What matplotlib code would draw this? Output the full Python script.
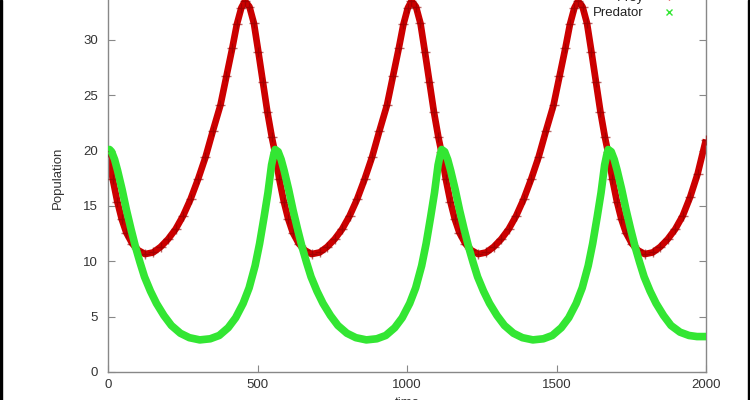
import numpy as np
import matplotlib
matplotlib.use('Agg')
import matplotlib.pyplot as plt
from matplotlib.lines import Line2D
from matplotlib.patches import Rectangle

# Prey population
prey_t = [0, 16, 31, 46, 61, 81, 101, 124, 151, 176, 201, 226, 251, 276, 301, 326, 351, 376, 396, 416, 431, 446,
          458, 473, 488, 503, 518, 533, 548, 558, 573, 588, 603, 618, 638, 658, 681, 708, 733, 758, 783, 808, 833,
          858, 883, 908, 933, 953, 973, 988, 1003,
          1015, 1030, 1045, 1060, 1075, 1090, 1105, 1115, 1130, 1145, 1160, 1175, 1195, 1215, 1238, 1265, 1290,
          1315, 1340, 1365, 1390, 1415, 1440, 1465, 1490, 1510, 1530, 1545, 1560,
          1572, 1587, 1602, 1617, 1632, 1647, 1662, 1672, 1687, 1702, 1717, 1732, 1752, 1772, 1795, 1822, 1847,
          1872, 1897, 1922, 1947, 1972, 2000]
prey = [19.9, 17.4, 15.4, 13.8, 12.6, 11.6, 11.0, 10.65, 10.8, 11.3, 12.0, 12.9, 14.1, 15.6, 17.4, 19.4, 21.8,
        24.1, 26.7, 29.3, 31.4, 32.9,
        33.5, 33.0, 31.5, 28.9, 26.2, 23.5, 21.2, 19.9, 17.4, 15.4, 13.8, 12.6, 11.6, 11.0, 10.65, 10.8, 11.3,
        12.0, 12.9, 14.1, 15.6, 17.4, 19.4, 21.8, 24.1, 26.7, 29.3, 31.4, 32.9,
        33.5, 33.0, 31.5, 28.9, 26.2, 23.5, 21.2, 19.9, 17.4, 15.4, 13.8, 12.6, 11.6, 11.0, 10.65, 10.8, 11.3,
        12.0, 12.9, 14.1, 15.6, 17.4, 19.4, 21.8, 24.1, 26.7, 29.3, 31.4, 32.9,
        33.5, 33.0, 31.5, 28.9, 26.2, 23.5, 21.2, 19.9, 17.4, 15.4, 13.8, 12.6, 11.6, 11.0, 10.65, 10.8, 11.3,
        12.0, 12.9, 14.1, 15.8, 17.9, 21.0]

# Predator population
pred_t = [0, 5, 12, 22, 32, 47, 62, 77, 92, 107, 122, 142, 162, 187, 212, 242, 272, 307, 342, 372, 402, 427,
          452, 472, 492, 507, 522, 535, 547, 554,
          559, 569, 579, 589, 604, 619, 634, 649, 664, 679, 699, 719, 744, 769, 799, 829, 864, 899, 929, 959,
          984, 1009, 1029, 1049, 1064, 1079, 1092, 1104, 1111,
          1116, 1126, 1136, 1146, 1161, 1176, 1191, 1206, 1221, 1236, 1256, 1276, 1301, 1326, 1356, 1386, 1421,
          1456, 1486, 1516, 1541, 1566, 1586, 1606, 1621, 1636, 1649, 1661, 1668,
          1673, 1683, 1693, 1703, 1718, 1733, 1748, 1763, 1778, 1793, 1813, 1833, 1858, 1883, 1913, 1943, 1970,
          2000]
predator = [20.0, 20.1, 19.9, 19.2, 18.2, 16.5, 14.6, 12.9, 11.3, 9.9, 8.6, 7.3, 6.2, 5.1, 4.2, 3.5, 3.1, 2.9,
            3.0, 3.3, 4.0, 4.9, 6.2, 7.6, 9.6, 11.6, 14.0, 16.2, 18.7, 19.6,
            20.1, 19.9, 19.2, 18.2, 16.5, 14.6, 12.9, 11.3, 9.9, 8.6, 7.3, 6.2, 5.1, 4.2, 3.5, 3.1, 2.9, 3.0,
            3.3, 4.0, 4.9, 6.2, 7.6, 9.6, 11.6, 14.0, 16.2, 18.7, 19.6,
            20.1, 19.9, 19.2, 18.2, 16.5, 14.6, 12.9, 11.3, 9.9, 8.6, 7.3, 6.2, 5.1, 4.2, 3.5, 3.1, 2.9, 3.0,
            3.3, 4.0, 4.9, 6.2, 7.6, 9.6, 11.6, 14.0, 16.2, 18.7, 19.6,
            20.1, 19.9, 19.2, 18.2, 16.5, 14.6, 12.9, 11.3, 9.9, 8.6, 7.3, 6.2, 5.1, 4.2, 3.6, 3.3, 3.2, 3.2]

x_ticks = [0, 500, 1000, 1500, 2000]
y_ticks = [0, 5, 10, 15, 20, 25, 30]

PREY_COLOR = '#cc0000'
PREY_MARK = '#8e0000'
PRED_COLOR = '#33e633'

plt.rcParams['font.family'] = ['Liberation Sans', 'DejaVu Sans']
plt.rcParams['font.size'] = 9.5

fig = plt.figure(figsize=(7.5, 4), dpi=100)
# axes run above the top edge: the picture is a crop of a taller gnuplot chart
ax = fig.add_axes([108 / 750, 28 / 400, 598 / 750, 387.5 / 400])

ax.plot(prey_t, prey, color=PREY_COLOR, linewidth=4.8, solid_capstyle='butt', zorder=2)
ax.plot(prey_t, prey, linestyle='none', marker='+', markersize=6.5, markeredgewidth=1,
        color=PREY_MARK, alpha=0.6, zorder=3)
ax.plot(pred_t, predator, color=PRED_COLOR, linewidth=5.5, solid_capstyle='butt', zorder=4)

ax.set_xlim(0, 2000)
ax.set_ylim(0, 35)
ax.set_xticks(x_ticks)
ax.set_yticks(y_ticks)
ax.tick_params(direction='in', length=5, width=0.8, color='#888888', labelcolor='#333333',
               top=True, right=True)
ax.tick_params(axis='y', pad=7)
ax.tick_params(axis='x', pad=5)
for s in ax.spines.values():
    s.set_color('#888888')
    s.set_linewidth(1.0)

ax.set_ylabel('Population', color='#333333', labelpad=14)
ax.set_xlabel('time', color='#333333', labelpad=4)

# legend: gnuplot style, text then sample marker
handles = [Line2D([], [], linestyle='none', marker='+', color=PREY_COLOR, markersize=6),
           Line2D([], [], linestyle='none', marker='x', color=PRED_COLOR, markersize=5)]
ax.legend(handles, ['Prey', 'Predator'], loc='upper right', bbox_to_anchor=(682 / 750, 1.021),
          bbox_transform=fig.transFigure, markerfirst=False, frameon=False, borderpad=0,
          borderaxespad=0, handlelength=2.0, handletextpad=0.9, labelspacing=0.25,
          labelcolor='#222222')

# thin black edges left and right of the screenshot
fig.patches.append(Rectangle((0, 0), 2 / 750, 1, transform=fig.transFigure, color='black'))
fig.patches.append(Rectangle((748 / 750, 0), 2 / 750, 1, transform=fig.transFigure, color='black'))

fig.savefig('out.png', dpi=100)
